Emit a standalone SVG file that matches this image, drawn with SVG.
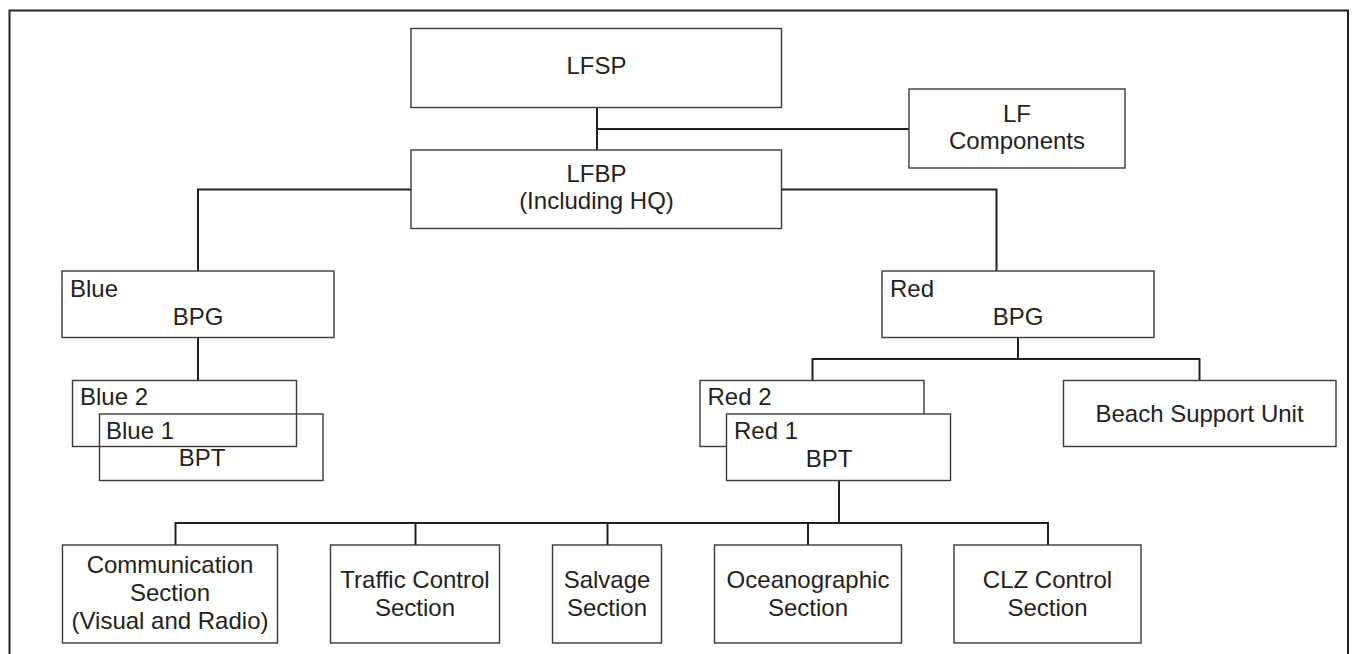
<svg xmlns="http://www.w3.org/2000/svg" width="1356" height="654" viewBox="0 0 1356 654">
  <style>
    .frame { fill: none; stroke: #231f20; stroke-width: 2; }
    .box { fill: none; stroke: #3a3a3a; stroke-width: 1.4; }
    .box.solid { fill: #ffffff; }
    .wire { fill: none; stroke: #231f20; stroke-width: 2; }
    text { font-family: "Liberation Sans", Arial, sans-serif; font-size: 24px; fill: #231f20; }
    .c { text-anchor: middle; }
  </style>
  <rect width="1356" height="654" fill="#ffffff"/>

  <!-- outer border, open at the bottom edge -->
  <path class="frame" d="M9.5,660 V10.5 H1348 V660"/>

  <!-- connectors -->
  <g id="connectors">
    <path class="wire" d="M597,107.5 V150"/>
    <path class="wire" d="M597,129 H909"/>
    <path class="wire" d="M411,189.5 H198 V271"/>
    <path class="wire" d="M781.5,189.5 H996.5 V271"/>
    <path class="wire" d="M198,337.5 V380.5"/>
    <path class="wire" d="M1018,337.5 V359"/>
    <path class="wire" d="M812.5,380.5 V359 H1199.5 V380.5"/>
    <path class="wire" d="M839,480.5 V523"/>
    <path class="wire" d="M175.5,545 V523 H1048 V545"/>
    <path class="wire" d="M415.5,523 V545"/>
    <path class="wire" d="M607.5,523 V545"/>
    <path class="wire" d="M808,523 V545"/>
  </g>

  <g id="lfsp">
    <rect class="box" x="411" y="28.5" width="370.5" height="79"/>
    <text class="c" x="596.5" y="74">LFSP</text>
  </g>

  <g id="lf-components">
    <rect class="box" x="909" y="89" width="216" height="79"/>
    <text class="c" x="1017" y="121.5">LF</text>
    <text class="c" x="1017" y="148.5">Components</text>
  </g>

  <g id="lfbp">
    <rect class="box" x="411" y="150" width="370.5" height="78.5"/>
    <text class="c" x="596.5" y="182">LFBP</text>
    <text class="c" x="596.5" y="209">(Including HQ)</text>
  </g>

  <g id="blue-bpg">
    <rect class="box" x="62" y="271" width="272" height="66.5"/>
    <text x="70" y="296.5">Blue</text>
    <text class="c" x="198" y="325">BPG</text>
  </g>

  <g id="blue-2">
    <rect class="box" x="72.5" y="380.5" width="224" height="66"/>
    <text x="80" y="405">Blue 2</text>
  </g>

  <g id="blue-1">
    <rect class="box" x="99.5" y="414" width="223.5" height="66.5"/>
    <text x="106" y="438.5">Blue 1</text>
    <text class="c" x="202" y="466">BPT</text>
  </g>

  <g id="red-bpg">
    <rect class="box" x="882" y="271" width="272" height="66.5"/>
    <text x="890" y="296.5">Red</text>
    <text class="c" x="1018" y="325">BPG</text>
  </g>

  <g id="red-2">
    <rect class="box" x="700" y="380.5" width="224" height="66"/>
    <text x="707.5" y="405">Red 2</text>
  </g>

  <g id="red-1">
    <rect class="box solid" x="726.5" y="414" width="224" height="66.5"/>
    <text x="734" y="439">Red 1</text>
    <text class="c" x="829" y="467">BPT</text>
  </g>

  <g id="beach-support-unit">
    <rect class="box" x="1063.5" y="380.5" width="272.5" height="66"/>
    <text class="c" x="1199.5" y="421.5">Beach Support Unit</text>
  </g>

  <g id="communication-section">
    <rect class="box" x="62.5" y="545" width="215" height="98"/>
    <text class="c" x="170" y="573">Communication</text>
    <text class="c" x="170" y="601">Section</text>
    <text class="c" x="170" y="629">(Visual and Radio)</text>
  </g>

  <g id="traffic-control-section">
    <rect class="box" x="330.5" y="545" width="169" height="98"/>
    <text class="c" x="415" y="588">Traffic Control</text>
    <text class="c" x="415" y="615.5">Section</text>
  </g>

  <g id="salvage-section">
    <rect class="box" x="552.5" y="545" width="109" height="98"/>
    <text class="c" x="607" y="588">Salvage</text>
    <text class="c" x="607" y="615.5">Section</text>
  </g>

  <g id="oceanographic-section">
    <rect class="box" x="714.5" y="545" width="187" height="98"/>
    <text class="c" x="808" y="588">Oceanographic</text>
    <text class="c" x="808" y="615.5">Section</text>
  </g>

  <g id="clz-control-section">
    <rect class="box" x="954" y="545" width="187" height="98"/>
    <text class="c" x="1047.5" y="588">CLZ Control</text>
    <text class="c" x="1047.5" y="615.5">Section</text>
  </g>
</svg>
